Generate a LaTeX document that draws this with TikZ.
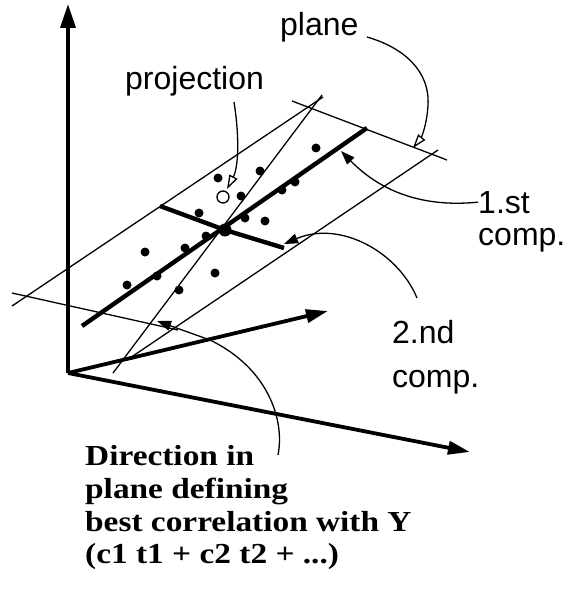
\documentclass[tikz,border=0pt]{standalone}
\usepackage{fontspec}
\setmainfont{Liberation Serif}
\newfontfamily\labelfont{Liberation Sans}
\newfontfamily\capfont[FakeStretch=1.15]{Liberation Serif}
\usetikzlibrary{arrows.meta}
\begin{document}
\begin{tikzpicture}[x=1pt,y=-1pt,
  axisline/.style={line width=3.8pt},
  thinline/.style={line width=1.3pt},
  compline/.style={line width=4.4pt},
  leader/.style={line width=1.3pt},
  filledtip/.style={-{Triangle[length=14pt,width=10pt]}},
  opentip/.style={-{Triangle[open,length=14pt,width=9pt]}},
  datadot/.style={circle,fill=black,inner sep=0pt,minimum size=9pt},
  lab/.style={font=\labelfont\fontsize{32}{34}\selectfont,inner sep=0pt,anchor=base west},
  captext/.style={font=\capfont\bfseries\fontsize{29}{33}\selectfont,inner sep=0pt,anchor=base west},
]
\useasboundingbox (0,0) rectangle (580,604);

% axes
\coordinate (O) at (68,373);
\coordinate (Ytop) at (68,4);
\coordinate (Xend) at (470,452);
\coordinate (Zend) at (328,311);
\draw[axisline,-{Triangle[length=24pt,width=15pt]}] (O) -- (Ytop);
\draw[axisline,-{Triangle[length=22pt,width=13pt]}] (O) -- (Xend);
\draw[axisline,-{Triangle[length=22pt,width=13pt]}] (O) -- (Zend);

% plane edges (hand drawn, overshooting corners)
\coordinate (p1a) at (12,306);  \coordinate (p1b) at (323,97);
\coordinate (p2a) at (12,293);  \coordinate (p2b) at (178,330);
\coordinate (p3a) at (292,101); \coordinate (p3b) at (447,160);
\coordinate (p4a) at (127,360); \coordinate (p4b) at (438,150);
\draw[thinline] (p1a) -- (p1b);
\draw[thinline] (p2a) -- (p2b);
\draw[thinline] (p3a) -- (p3b);
\draw[thinline] (p4a) -- (p4b);

% direction line through the plane
\coordinate (ta) at (113,373); \coordinate (tb) at (322,95);
\draw[thinline] (ta) -- (tb);

% components
\coordinate (c1a) at (82,326); \coordinate (c1b) at (367,128);
\coordinate (c2a) at (160,206); \coordinate (c2b) at (284,248);
\node[circle,fill=black,inner sep=0pt,minimum size=13pt] (ctr) at (225,230) {};
\draw[compline] (c1a) -- (c1b);
\draw[compline] (c2a) -- (ctr.center) -- (c2b);

% data points
\node[datadot] (d1) at (218,178) {};
\node[datadot] (d2) at (260,171) {};
\node[datadot] (d3) at (316,148) {};
\node[datadot] (d4) at (241,196) {};
\node[datadot] (d5) at (199,213) {};
\node[datadot] (d6) at (245,218) {};
\node[datadot] (d7) at (265,221) {};
\node[datadot] (d8) at (282,190) {};
\node[datadot] (d9) at (295,182) {};
\node[datadot] (d10) at (206,236) {};
\node[datadot] (d11) at (185,248) {};
\node[datadot] (d12) at (145,252) {};
\node[datadot] (d13) at (215,273) {};
\node[datadot] (d14) at (127,285) {};
\node[datadot] (d15) at (157,276) {};
\node[datadot] (d16) at (179,290) {};

% projected point
\node[circle,draw,thinline,minimum size=12pt,inner sep=0pt] (proj) at (223,197) {};

% labels
\node[lab] (plane) at (280,36) {plane};
\node[lab] (projection) at (125,90) {projection};
\node[lab] (first) at (478,213) {1.st};
\node[lab] (firstb) at (478,245) {comp.};
\node[lab] (second) at (392,343) {2.nd};
\node[lab] (secondb) at (392,387) {comp.};

\node[captext] (t1) at (85,465) {Direction in};
\node[captext] (t2) at (85,498) {plane defining};
\node[captext] (t3) at (85,531) {best correlation with Y};
\node[captext] (t4) at (85,563) {(c1 t1 + c2 t2 + ...)};

% leaders
\coordinate (pls) at (367,37);
\coordinate (plt) at (413,148);
\draw[leader,opentip] (pls) .. controls (405,48) and (430,72) .. (428,105) .. controls (427,125) and (421,138) .. (plt);
\coordinate (prs) at (234,102);
\coordinate (prt) at (227,189);
\draw[leader,opentip] (prs) .. controls (240,140) and (238,168) .. (prt);
\coordinate (fct) at (341,151);
\draw[leader,filledtip] (first.west) .. controls (430,207) and (385,196) .. (fct);
\coordinate (scs) at (417,298);
\coordinate (sct) at (284,244);
\draw[leader,filledtip] (scs) .. controls (398,252) and (340,220) .. (sct);
\coordinate (dcs) at (278,455);
\coordinate (dct) at (157,321);
\draw[leader,filledtip] (dcs) .. controls (285,420) and (268,368) .. (210,340) -- (dct);
\end{tikzpicture}
\end{document}
